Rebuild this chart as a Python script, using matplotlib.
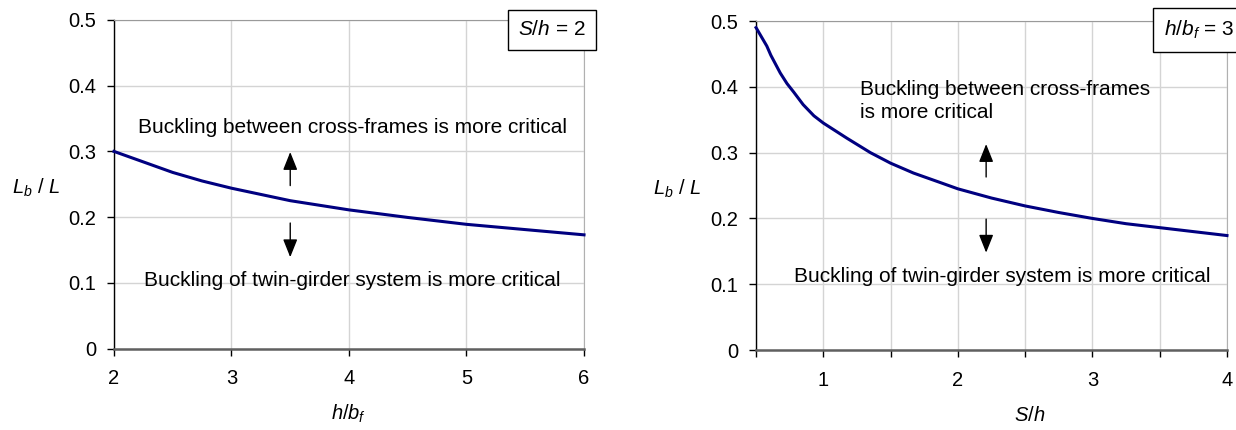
import matplotlib
matplotlib.use("Agg")
import matplotlib.pyplot as plt
from matplotlib.ticker import FixedLocator, FixedFormatter


plt.rcParams["font.family"] = ["Liberation Sans", "DejaVu Sans"]
plt.rcParams["mathtext.fontset"] = "custom"
plt.rcParams["mathtext.rm"] = "Liberation Sans"
plt.rcParams["mathtext.it"] = "Liberation Sans:italic"

# Dados lidos do gráfico
# esquerda: S/h = 2, Lb/L em função de h/bf
hbf_x = [2.0, 2.25, 2.5, 2.75, 3.0, 3.5, 4.0, 4.5, 5.0, 5.5, 6.0]
hbf_y = [0.300, 0.284, 0.268, 0.255, 0.244, 0.225, 0.211, 0.1995, 0.189, 0.181, 0.173]

# direita: h/bf = 3, Lb/L em função de S/h
sh_x = [0.5, 0.58, 0.61, 0.68, 0.73, 0.78, 0.85, 0.93, 1.0, 1.175, 1.35, 1.5,
        1.67, 1.87, 2.0, 2.25, 2.5, 2.75, 3.0, 3.25, 3.5, 3.75, 4.0]
sh_y = [0.490, 0.462, 0.448, 0.421, 0.405, 0.392, 0.373, 0.356, 0.345, 0.322, 0.300, 0.284,
        0.269, 0.2545, 0.245, 0.231, 0.219, 0.209, 0.200, 0.192, 0.186, 0.180, 0.174]

y_ticks = [0, 0.1, 0.2, 0.3, 0.4, 0.5]
y_labels = ["0", "0.1", "0.2", "0.3", "0.4", "0.5"]
left_xticks = [2, 3, 4, 5, 6]
left_xlabels = ["2", "3", "4", "5", "6"]
right_xticks = [0.5, 1, 1.5, 2, 2.5, 3, 3.5, 4]
right_xlabels = ["", "1", "", "2", "", "3", "", "4"]

TXT_UP = "Buckling between cross-frames is more critical"
TXT_UP_WRAP = "Buckling between cross-frames\nis more critical"
TXT_DOWN = "Buckling of twin-girder system is more critical"

LINE_COLOR = "#000080"
GRID_COLOR = "#d4d4d4"


def style_axes(ax, xticks, xlabels, xlim):
    ax.set_xlim(*xlim)
    ax.set_ylim(0, 0.5)
    ax.xaxis.set_major_locator(FixedLocator(xticks))
    ax.xaxis.set_major_formatter(FixedFormatter(xlabels))
    ax.yaxis.set_major_locator(FixedLocator(y_ticks))
    ax.yaxis.set_major_formatter(FixedFormatter(y_labels))
    ax.grid(True, color=GRID_COLOR, lw=1)
    ax.set_axisbelow(True)
    ax.spines["left"].set_color("black")
    ax.spines["left"].set_linewidth(1)
    ax.spines["bottom"].set_color("#606060")
    ax.spines["bottom"].set_linewidth(1.8)
    ax.spines["top"].set_color("#9a9a9a")
    ax.spines["right"].set_color("#b0b0b0")
    ax.tick_params(axis="y", direction="out", length=5, width=1,
                   labelsize=14.5, pad=8)
    ax.tick_params(axis="x", direction="out", length=5, width=1,
                   labelsize=14.5, pad=10)


def arrows(ax, x, up, down):
    props = dict(arrowstyle="-|>,head_length=0.55,head_width=0.22",
                 color="black", lw=1, mutation_scale=20,
                 shrinkA=0, shrinkB=0)
    ax.annotate("", xy=(x, up[1]), xytext=(x, up[0]), arrowprops=props)
    ax.annotate("", xy=(x, down[1]), xytext=(x, down[0]), arrowprops=props)


fig = plt.figure(figsize=(12.36, 4.30), dpi=100)
ax1 = fig.add_axes([0.0922, 0.1895, 0.3803, 0.764])
ax2 = fig.add_axes([0.6117, 0.186, 0.381, 0.765])

# Gráfico da esquerda
style_axes(ax1, left_xticks, left_xlabels, (2, 6))
ax1.plot(hbf_x, hbf_y, color=LINE_COLOR, lw=2.2, clip_on=False, zorder=3)
ax1.text(4.03, 0.336, TXT_UP, ha="center", va="center", fontsize=15)
ax1.text(4.03, 0.103, TXT_DOWN, ha="center", va="center", fontsize=15)
arrows(ax1, 3.5, (0.248, 0.299), (0.191, 0.139))
ax1.text(0.932, 0.97, r"$S$/$h$ = 2", transform=ax1.transAxes,
         ha="center", va="center", fontsize=15, clip_on=False,
         bbox=dict(boxstyle="square,pad=0.5", fc="white", ec="black", lw=1))
ax1.set_ylabel(r"$L_b$ / $L$", rotation=0, fontsize=14.5, ha="center", va="center")
ax1.yaxis.set_label_coords(-0.166, 0.49)
ax1.set_xlabel(r"$h$/$b_f$", fontsize=14.5, va="center")
ax1.xaxis.set_label_coords(0.5, -0.2)

# Gráfico da direita
style_axes(ax2, right_xticks, right_xlabels, (0.5, 4))
ax2.plot(sh_x, sh_y, color=LINE_COLOR, lw=2.2, clip_on=False, zorder=3)
ax2.text(1.27, 0.378, TXT_UP_WRAP, ha="left", va="center", fontsize=15,
         linespacing=1.25)
ax2.text(2.33, 0.111, TXT_DOWN, ha="center", va="center", fontsize=15)
arrows(ax2, 2.21, (0.263, 0.313), (0.199, 0.148))
ax2.text(0.94, 0.973, r"$h$/$b_f$ = 3", transform=ax2.transAxes,
         ha="center", va="center", fontsize=15, clip_on=False,
         bbox=dict(boxstyle="square,pad=0.5", fc="white", ec="black", lw=1))
ax2.set_ylabel(r"$L_b$ / $L$", rotation=0, fontsize=14.5, ha="center", va="center")
ax2.yaxis.set_label_coords(-0.168, 0.49)
ax2.set_xlabel(r"$S$/$h$", fontsize=14.5, va="center")
ax2.xaxis.set_label_coords(0.58, -0.2)

plt.savefig("out.png", dpi=100)
plt.close()
